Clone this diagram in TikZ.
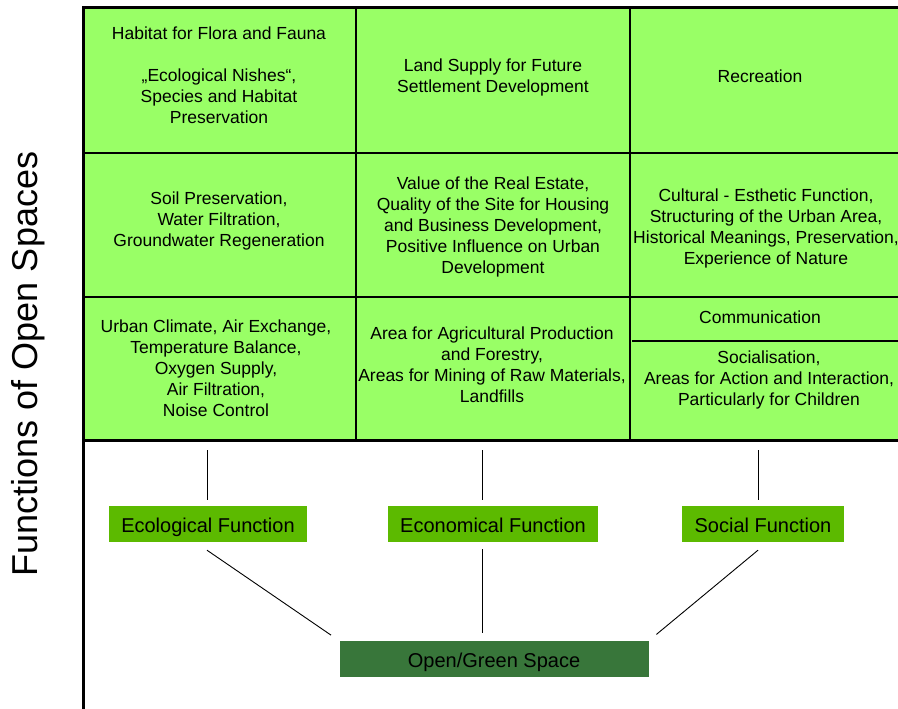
\documentclass[tikz,border=0pt]{standalone}
\usepackage{fontspec}
\setmainfont{Liberation Sans}
\usetikzlibrary{positioning}

\definecolor{cellgreen}{RGB}{153,255,102}
\definecolor{funcgreen}{RGB}{92,186,0}
\definecolor{spacegreen}{RGB}{56,118,58}

\tikzset{
  cell/.style={align=center,inner sep=0pt,font=\fontsize{17.5}{21}\selectfont},
  func/.style={fill=funcgreen,minimum height=36pt,inner xsep=12.5pt,inner ysep=0pt,text height=20pt,text depth=4pt,font=\fontsize{20}{24}\selectfont},
  space/.style={fill=spacegreen,minimum height=36pt,minimum width=309pt,inner sep=0pt,text height=20pt,text depth=4pt,font=\fontsize{20}{24}\selectfont},
  grid/.style={line width=1.6pt},
  border/.style={line width=3pt},
  link/.style={line width=0.9pt}
}

\begin{document}
\begin{tikzpicture}[x=1pt,y=-1pt]
\useasboundingbox (0,0) rectangle (898,709);

% table
\fill[cellgreen] (83,8) rectangle (898,440);
\draw[grid] (356,8) -- (356,440) (630,8) -- (630,440)
  (83,153) -- (898,153) (83,297) -- (898,297) (632,341) -- (898,341);
\draw[border] (83,709) -- (83,8) -- (898,8) (83,440) -- (898,440);

\node[cell] (habitat) at (219,75.5) {Habitat for Flora and Fauna\\[21pt]„Ecological Nishes“,\\Species and Habitat\\Preservation};
\node[cell] (land) at (493,77.5) {Land Supply for Future\\Settlement Development};
\node[cell] (recreation) at (760,76) {Recreation};
\node[cell] (soil) at (219,221) {Soil Preservation,\\Water Filtration,\\Groundwater Regeneration};
\node[cell] (estate) at (493,227) {Value of the Real Estate,\\Quality of the Site for Housing\\and Business Development,\\Positive Influence on Urban\\Development};
\node[cell] (cultural) at (766,228) {Cultural - Esthetic Function,\\Structuring of the Urban Area,\\Historical Meanings, Preservation,\\Experience of Nature};
\node[cell] (climate) at (216,368) {Urban Climate, Air Exchange,\\Temperature Balance,\\Oxygen Supply,\\Air Filtration,\\Noise Control};
\node[cell] (agri) at (492,365) {Area for Agricultural Production\\and Forestry,\\Areas for Mining of Raw Materials,\\Landfills};
\node[cell] (comm) at (760,317) {Communication};
\node[cell] (social) at (769,380) {Socialisation,\\Areas for Action and Interaction,\\Particularly for Children};

\node[rotate=90,inner sep=0pt,font=\fontsize{36}{43}\selectfont] (title) at (28,364) {Functions of Open Spaces};

% functions
\node[space] (open) at (494,659) {Open/Green Space};
\foreach \name/\x/\lx/\txt in {eco/208/207/Ecological Function,econ/493/482/Economical Function,soc/763/758/Social Function}
{
  \node[func] (\name) at (\x,524) {\txt};
  \coordinate (\name-top) at (\lx,440);
  \draw[link,shorten >=5.5pt] ([yshift=-10pt]\name-top) -- (\name-top |- \name.north);
}

\draw[link,shorten >=10pt] ([yshift=-8pt]eco-top |- eco.south) -- (open.north west);
\draw[link,shorten >=8pt] ([yshift=-7pt]econ-top |- econ.south) -- (econ-top |- open.north);
\draw[link,shorten >=10pt] ([yshift=-8pt]soc-top |- soc.south) -- (open.north east);
\end{tikzpicture}
\end{document}
